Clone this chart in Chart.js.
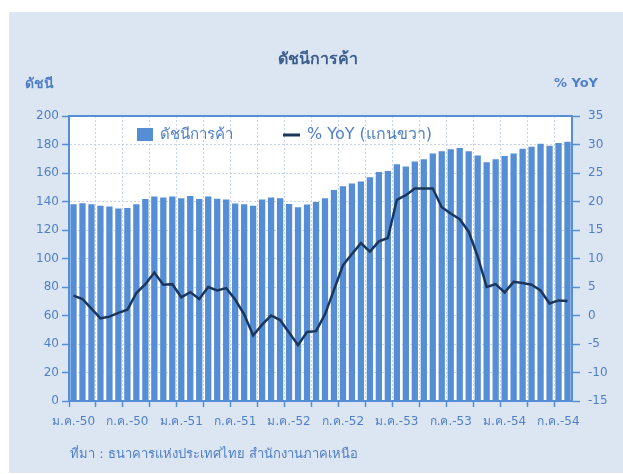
<!DOCTYPE html>
<html>
<head>
<meta charset="utf-8">
<script src="https://cdn.jsdelivr.net/npm/chart.js@4/dist/chart.umd.min.js"></script>
<style>
html,body{margin:0;padding:0;background:#fff;}
#wrap{width:623px;height:474px;position:relative;}
</style>
</head>
<body>
<div id="wrap"><canvas id="c" width="623" height="474"></canvas></div>
<script>
const categories = [
 'ม.ค.-50','ก.พ.-50','มี.ค.-50','เม.ย.-50','พ.ค.-50','มิ.ย.-50','ก.ค.-50','ส.ค.-50','ก.ย.-50','ต.ค.-50','พ.ย.-50','ธ.ค.-50',
 'ม.ค.-51','ก.พ.-51','มี.ค.-51','เม.ย.-51','พ.ค.-51','มิ.ย.-51','ก.ค.-51','ส.ค.-51','ก.ย.-51','ต.ค.-51','พ.ย.-51','ธ.ค.-51',
 'ม.ค.-52','ก.พ.-52','มี.ค.-52','เม.ย.-52','พ.ค.-52','มิ.ย.-52','ก.ค.-52','ส.ค.-52','ก.ย.-52','ต.ค.-52','พ.ย.-52','ธ.ค.-52',
 'ม.ค.-53','ก.พ.-53','มี.ค.-53','เม.ย.-53','พ.ค.-53','มิ.ย.-53','ก.ค.-53','ส.ค.-53','ก.ย.-53','ต.ค.-53','พ.ย.-53','ธ.ค.-53',
 'ม.ค.-54','ก.พ.-54','มี.ค.-54','เม.ย.-54','พ.ค.-54','มิ.ย.-54','ก.ค.-54','ส.ค.-54'
];
const tradeIndex = [
 138.1,138.8,138.0,137.0,136.5,135.1,135.5,138.0,141.8,143.5,142.8,143.5,
 142.3,143.9,141.8,143.5,142.0,141.4,138.6,138.1,137.0,141.4,142.8,142.3,
 138.3,136.0,137.9,139.7,142.3,148.1,150.7,152.6,154.0,157.0,160.7,161.4,
 166.1,164.6,168.0,169.6,173.7,175.2,176.6,177.5,175.2,172.2,167.5,169.6,
 171.9,173.7,177.1,178.5,180.6,179.2,181.0,182.0
];
const yoy = [
 3.5,2.9,1.2,-0.5,-0.2,0.45,1.0,3.95,5.5,7.55,5.4,5.5,
 3.2,4.1,2.9,5.0,4.4,4.8,2.8,0.2,-3.5,-1.6,0.0,-0.8,
 -3.0,-5.2,-2.9,-2.75,0.2,4.5,8.8,10.8,12.7,11.2,13.0,13.6,
 20.3,21.1,22.3,22.3,22.3,19.0,17.9,16.9,14.7,10.35,5.0,5.5,
 4.05,5.9,5.7,5.4,4.4,2.1,2.65,2.55
];
const leftTicks = {min:0, max:200, step:20};
const rightTicks = {min:-15, max:35, step:5};

const FONT = 'Tahoma, "DejaVu Sans", sans-serif';
const BLUE = '#558ed5';
const TXT = '#4f7fc6';
const NAVY = '#1b365c';
const GRID = '#c5d4ea';

const decor = {
  id:'decor',
  beforeDraw(chart){
    const c = chart.ctx, a = chart.chartArea;
    c.save();
    c.fillStyle = '#ffffff';
    c.fillRect(0,0,chart.width,chart.height);
    c.fillStyle = '#dce6f2';
    c.fillRect(9,12,chart.width-9,461);
    c.fillStyle = '#ffffff';
    c.fillRect(a.left,a.top,a.right-a.left,a.bottom-a.top);
    c.restore();
  },
  afterDraw(chart){
    const c = chart.ctx, a = chart.chartArea;
    c.save();
    c.strokeStyle = BLUE; c.lineWidth = 2;
    c.beginPath(); c.moveTo(a.left-1,a.top); c.lineTo(a.right+1,a.top); c.stroke();
    c.textBaseline = 'middle';
    c.fillStyle = '#3b5f90';
    c.font = 'bold 16px ' + FONT;
    c.textAlign = 'center';
    c.fillText('ดัชนีการค้า', 318, 60);
    c.fillStyle = TXT;
    c.font = 'bold 14px ' + FONT;
    c.textAlign = 'left';
    c.fillText('ดัชนี', 25, 84);
    c.font = 'bold 13px ' + FONT;
    c.textAlign = 'right';
    c.fillText('% YoY', 598, 84);
    // legend
    c.fillStyle = BLUE;
    c.fillRect(137,128,16,13);
    c.fillStyle = TXT;
    c.font = '15px ' + FONT;
    c.textAlign = 'left';
    c.fillText(chart.data.datasets[1].label, 160, 135);
    c.strokeStyle = NAVY; c.lineWidth = 3;
    c.beginPath(); c.moveTo(283,135); c.lineTo(300,135); c.stroke();
    c.font = '16px ' + FONT;
    c.fillText(chart.data.datasets[0].label, 307, 135);
    // source
    c.font = '13px ' + FONT;
    c.fillText('ที่มา : ธนาคารแห่งประเทศไทย สำนักงานภาคเหนือ', 70, 455);
    c.restore();
  }
};

new Chart(document.getElementById('c'), {
  type:'bar',
  data:{
    labels: categories,
    datasets:[
      {type:'line', label:'% YoY (แกนขวา)', data:yoy, yAxisID:'y1', borderColor:NAVY, borderWidth:2.5,
       pointRadius:0, tension:0, order:0, fill:false},
      {type:'bar', label:'ดัชนีการค้า', data:tradeIndex, yAxisID:'y', backgroundColor:BLUE,
       categoryPercentage:1, barPercentage:0.7, order:1}
    ]
  },
  options:{
    responsive:false, animation:false,
    layout:{padding:{top:116,left:9,right:0,bottom:0}},
    plugins:{legend:{display:false}, title:{display:false}, tooltip:{enabled:false}},
    scales:{
      x:{
        offset:true,
        grid:{offset:true, drawOnChartArea:true, drawTicks:true, tickLength:6,
          color:ctx => (ctx.index % 3 === 0 && ctx.index !== 0) ? GRID : 'rgba(0,0,0,0)',
          tickColor:ctx => (ctx.index % 3 === 0) ? BLUE : 'rgba(0,0,0,0)', lineWidth:1, tickWidth:1.5},
        border:{display:true, color:BLUE, width:2, dash:[2,2]},
        ticks:{autoSkip:false, maxRotation:0, minRotation:0, color:TXT, font:{family:FONT,size:12}, padding:8,
          callback:(v,i) => i % 6 === 0 ? categories[i] : ''},
        afterFit:s => { s.height = 73; }
      },
      y:{
        position:'left', min:leftTicks.min, max:leftTicks.max,
        grid:{color:GRID, tickColor:BLUE, tickLength:7, lineWidth:1, tickWidth:1.5},
        border:{display:true, color:BLUE, width:2, dash:[2,2]},
        ticks:{stepSize:leftTicks.step, color:TXT, font:{family:FONT,size:12}, padding:3},
        afterFit:s => { s.width = 60; }
      },
      y1:{
        position:'right', min:rightTicks.min, max:rightTicks.max,
        grid:{drawOnChartArea:false, tickColor:BLUE, tickLength:8, tickWidth:1.5},
        border:{display:true, color:BLUE, width:2},
        ticks:{stepSize:rightTicks.step, color:TXT, font:{family:FONT,size:12}, padding:8},
        afterFit:s => { s.width = 51; }
      }
    }
  },
  plugins:[decor]
});
</script>
</body>
</html>
